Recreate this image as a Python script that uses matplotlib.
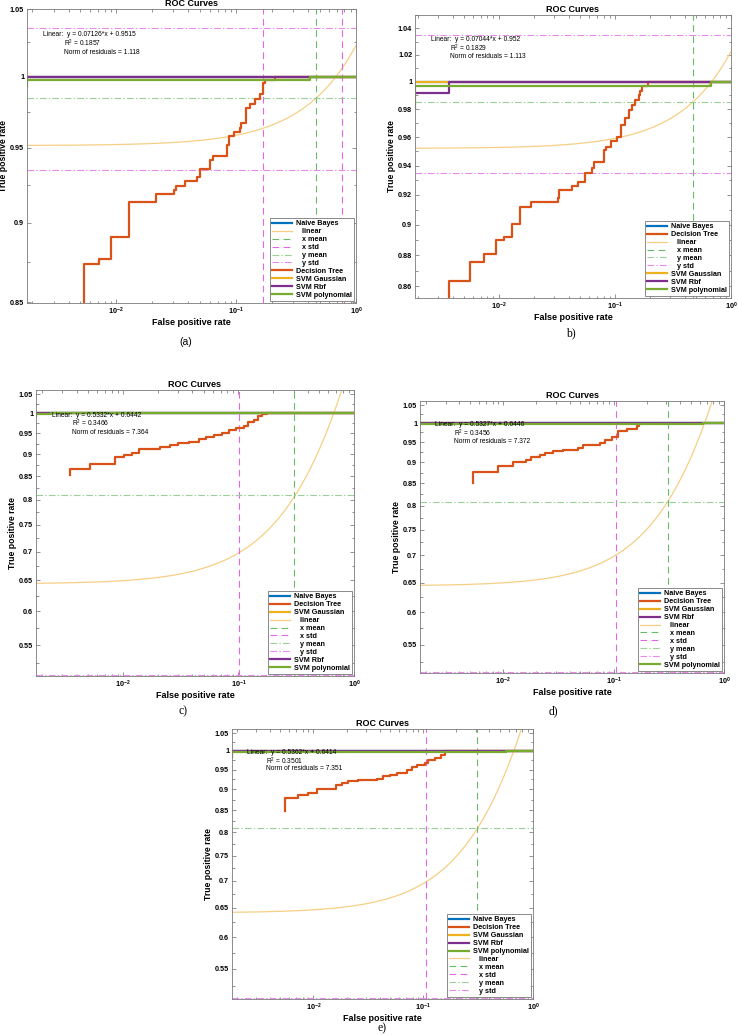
import numpy as np
import matplotlib
matplotlib.use('Agg')
import matplotlib.pyplot as plt
from matplotlib.ticker import FixedLocator, FuncFormatter, LogLocator, NullFormatter

plt.rcParams['font.family'] = ['Liberation Sans', 'DejaVu Sans']
plt.rcParams['font.weight'] = 'bold'
plt.rcParams['axes.titleweight'] = 'bold'
plt.rcParams['axes.labelweight'] = 'bold'
plt.rcParams['mathtext.fontset'] = 'custom'
plt.rcParams['mathtext.rm'] = 'Liberation Sans'
plt.rcParams['mathtext.bf'] = 'Liberation Sans:bold'
plt.rcParams['mathtext.default'] = 'regular'

# ---- data ----
# (a)
a_xmin = 0.0018
a_ylim = (0.8494, 1.05)
a_yticks = [0.85, 0.9, 0.95, 1.0, 1.05]
a_dt_fpr = [0.0054, 0.0054, 0.00718, 0.0091, 0.01265, 0.0216, 0.0301, 0.0318, 0.0376, 0.0476, 0.050,
            0.0603, 0.0636, 0.0845, 0.0874, 0.0960, 0.107, 0.110, 0.120, 0.122, 0.130, 0.145,
            0.158, 0.166, 0.175, 0.21, 1.0]
a_dt_tpr = [0.80, 0.8737, 0.877, 0.891, 0.9136, 0.919, 0.9217, 0.9243, 0.9277, 0.9301, 0.9357,
            0.9414, 0.9445, 0.952, 0.9582, 0.9612, 0.9635, 0.967, 0.9713, 0.9776, 0.9805, 0.9838,
            0.9874, 0.9953, 0.9975, 1.0, 1.0]
a_rbf_fpr = [0.0018, 1.0]
a_rbf_tpr = [1.0, 1.0]
a_poly_fpr = [0.0018, 0.0018, 0.415, 1.0]
a_poly_tpr = [0.993, 0.9975, 1.0, 1.0]
a_fit = (0.07126, 0.9515)
a_xmean = 0.466
a_xstd = [0.166, 0.766]
a_ymean = 0.985
a_ystd = [0.935, 1.0355]
a_note = ['Linear:  y = 0.07126*x + 0.9515', 'R$^2$ = 0.1857', 'Norm of residuals = 1.118']
a_order = ['Naive Bayes', 'linear', 'x mean', 'x std', 'y mean', 'y std',
           'Decision Tree', 'SVM Gaussian', 'SVM Rbf', 'SVM polynomial']

# (b)
b_xmin = 0.0019
b_ylim = (0.8527, 1.0503)
b_yticks = [0.86, 0.88, 0.9, 0.92, 0.94, 0.96, 0.98, 1.0, 1.02, 1.04]
b_dt_fpr = [0.00376, 0.00376, 0.00565, 0.0075, 0.00943, 0.0111, 0.0131, 0.0151, 0.019, 0.0321,
            0.0332, 0.0424, 0.0477, 0.0554, 0.0632, 0.066, 0.0806, 0.0834, 0.0918, 0.1047, 0.114,
            0.123, 0.132, 0.141, 0.150, 0.160, 0.165, 0.171, 0.193, 1.0]
b_dt_tpr = [0.80, 0.8636, 0.8753, 0.8809, 0.8896, 0.8918, 0.9003, 0.912, 0.9149, 0.9177, 0.9234,
            0.9261, 0.929, 0.9347, 0.9382, 0.9428, 0.951, 0.9533, 0.9573, 0.9603, 0.9686, 0.9733,
            0.9794, 0.983, 0.9866, 0.9903, 0.9928, 0.9969, 1.0, 1.0]
b_rbf_fpr = [0.0019, 0.00375, 1.0]
b_rbf_tpr = [0.9914, 1.0, 1.0]
b_poly_fpr = [0.0019, 0.0019, 0.67, 1.0]
b_poly_tpr = [0.9805, 0.997, 1.0, 1.0]
b_fit = (0.07044, 0.952)
b_xmean = 0.467
b_xstd = []
b_ymean = 0.985
b_ystd = [0.935, 1.035]
b_note = ['Linear:  y = 0.07044*x + 0.952', 'R$^2$ = 0.1829', 'Norm of residuals = 1.113']
b_order = ['Naive Bayes', 'Decision Tree', 'linear', 'x mean', 'y mean', 'y std',
           'SVM Gaussian', 'SVM Rbf', 'SVM polynomial']

# (c)
c_xmin = 0.00177
c_ylim = (0.508, 1.062)
c_yticks = [0.55, 0.6, 0.65, 0.7, 0.75, 0.8, 0.85, 0.9, 0.95, 1.0, 1.05]
c_dt_fpr = [0.00347, 0.00347, 0.00516, 0.00848, 0.0103, 0.012, 0.0139, 0.021, 0.0256, 0.0298,
            0.0376, 0.0458, 0.0529, 0.0616, 0.0727, 0.083, 0.096, 0.1119, 0.122, 0.1366, 0.1486,
            0.161, 0.178, 1.0]
c_dt_tpr = [0.854, 0.8655, 0.877, 0.8925, 0.8979, 0.903, 0.911, 0.9175, 0.9214, 0.9254, 0.9295,
            0.935, 0.9414, 0.9455, 0.9496, 0.9578, 0.962, 0.9678, 0.979, 0.9832, 0.9937, 0.999,
            1.0, 1.0]
c_rbf_fpr = [0.00177, 1.0]
c_rbf_tpr = [1.0, 1.0]
c_poly_fpr = [0.00177, 0.00177, 0.0024, 1.0]
c_poly_tpr = [0.993, 0.9975, 1.0, 1.0]
c_fit = (0.5332, 0.6442)
c_xmean = 0.302
c_xstd = [0.101]
c_ymean = 0.81
c_ystd = [0.509]
c_note = ['Linear:  y = 0.5332*x + 0.6442', 'R$^2$ = 0.3466', 'Norm of residuals = 7.364']
c_order = ['Naive Bayes', 'Decision Tree', 'SVM Gaussian', 'linear', 'x mean', 'x std',
           'y mean', 'y std', 'SVM Rbf', 'SVM polynomial']

# (d)
d_xmin = 0.00176
d_ylim = (0.5096, 1.0614)
d_yticks = c_yticks
d_dt_fpr = [0.00527, 0.00527, 0.0089, 0.0123, 0.016, 0.0178, 0.0215, 0.0239, 0.0284, 0.035,
            0.0478, 0.0531, 0.0752, 0.0835, 0.096, 0.110, 0.131, 0.162, 0.171]
d_dt_tpr = [0.8514, 0.8757, 0.8908, 0.9013, 0.9057, 0.912, 0.918, 0.9223, 0.9264, 0.9307,
            0.9349, 0.9436, 0.9478, 0.9547, 0.9634, 0.9781, 0.9843, 0.9913, 0.9957]
d_rbf_fpr = [0.00176, 1.0]
d_rbf_tpr = [1.0, 1.0]
d_poly_fpr = [0.00176, 0.65, 1.0]
d_poly_tpr = [0.997, 1.0, 1.0]
d_fit = (0.5327, 0.6446)
d_xmean = 0.313
d_xstd = [0.104]
d_ymean = 0.809
d_ystd = [0.5105]
d_note = ['Linear:  y = 0.5327*x + 0.6446', 'R$^2$ = 0.3456', 'Norm of residuals = 7.372']
d_order = ['Naive Bayes', 'Decision Tree', 'SVM Gaussian', 'SVM Rbf', 'linear', 'x mean',
           'x std', 'y mean', 'y std', 'SVM polynomial']

# (e)
e_xmin = 0.00181
e_ylim = (0.5065, 1.0616)
e_yticks = c_yticks
e_dt_fpr = [0.0055, 0.0055, 0.0073, 0.009, 0.0107, 0.0161, 0.0181, 0.0208, 0.0253, 0.0376,
            0.0433, 0.0498, 0.0573, 0.0705, 0.0782, 0.0869, 0.1034, 0.111, 0.128, 0.144, 0.157, 1.0]
e_dt_tpr = [0.847, 0.8795, 0.8865, 0.892, 0.9004, 0.9112, 0.9154, 0.9196, 0.9238, 0.9263,
            0.9323, 0.9366, 0.941, 0.9497, 0.9567, 0.9628, 0.9673, 0.976, 0.9805, 0.9895, 0.9985, 0.9985]
e_rbf_fpr = [0.00181, 1.0]
e_rbf_tpr = [1.0, 1.0]
e_poly_fpr = [0.00181, 0.00181, 0.572, 1.0]
e_poly_tpr = [0.983, 0.997, 1.0, 1.0]
e_fit = (0.5362, 0.6414)
e_xmean = 0.31
e_xstd = [0.105]
e_ymean = 0.809
e_ystd = [0.5075]
e_note = ['Linear:  y = 0.5362*x + 0.6414', 'R$^2$ = 0.3501', 'Norm of residuals = 7.351']
e_order = ['Naive Bayes', 'Decision Tree', 'SVM Gaussian', 'SVM Rbf', 'SVM polynomial',
           'linear', 'x mean', 'x std', 'y mean', 'y std']

# ---- styling ----
BLUE, ORANGE, YELLOW, PURPLE, GREEN = '#0072BD', '#D95319', '#EDB120', '#7E2F8E', '#77AC30'
FITC = '#F6CF85'
XMEAN_C, YMEAN_C = '#66BB66', '#9ACF9A'
XSTD_C, YSTD_C = '#E366E3', '#E88AE8'
FIT_ITEMS = {'linear', 'x mean', 'x std', 'y mean', 'y std'}

W, H = 738, 1035
fig = plt.figure(figsize=(W / 100, H / 100), dpi=100)


def px_axes(l, t, r, b):
    ax = fig.add_axes([l / W, 1 - b / H, (r - l) / W, (b - t) / H])
    ax._px_width = r - l
    return ax


def roc_panel(ax, xmin, ylim, yticks, dt_fpr, dt_tpr, rbf_fpr, rbf_tpr, poly_fpr, poly_tpr,
              fit, xmean, xstd, ymean, ystd, note, order):
    h = {}
    h['Naive Bayes'], = ax.plot([xmin, 1.0], [1.0, 1.0], color=BLUE, lw=1.6)
    xf = np.logspace(np.log10(xmin), 0, 400)
    h['linear'], = ax.plot(xf, fit[0] * xf + fit[1], color=FITC, lw=0.9)
    h['x mean'] = ax.axvline(xmean, color=XMEAN_C, ls=(0, (6, 4)), lw=0.8)
    for v in xstd:
        h['x std'] = ax.axvline(v, color=XSTD_C, ls=(0, (6, 4)), lw=0.8)
    h['y mean'] = ax.axhline(ymean, color=YMEAN_C, ls=(0, (6, 2, 1.2, 2)), lw=0.8)
    for v in ystd:
        h['y std'] = ax.axhline(v, color=YSTD_C, ls=(0, (6, 2, 1.2, 2)), lw=0.8)
    h['Decision Tree'], = ax.plot(dt_fpr, dt_tpr, drawstyle='steps-post', color=ORANGE, lw=1.6)
    h['SVM Gaussian'], = ax.plot([xmin, 1.0], [1.0, 1.0], color=YELLOW, lw=1.6)
    h['SVM Rbf'], = ax.plot(rbf_fpr, rbf_tpr, drawstyle='steps-post', color=PURPLE, lw=1.6)
    h['SVM polynomial'], = ax.plot(poly_fpr, poly_tpr, drawstyle='steps-post', color=GREEN, lw=1.6)

    ax.set_xscale('log')
    ax.set_yscale('log')
    ax.set_xlim(xmin, 1.0)
    ax.set_ylim(*ylim)
    ax.xaxis.set_major_locator(LogLocator(base=10, numticks=10))
    ax.xaxis.set_major_formatter(FuncFormatter(lambda v, p: r'$\mathbf{10^{%d}}$' % round(np.log10(v))))
    ax.xaxis.set_minor_locator(LogLocator(base=10, subs=np.arange(2, 10), numticks=10))
    ax.xaxis.set_minor_formatter(NullFormatter())
    step = yticks[1] - yticks[0]
    ax.yaxis.set_major_locator(FixedLocator(yticks))
    ax.yaxis.set_major_formatter(FuncFormatter(lambda v, p: f'{v:g}'))
    ax.yaxis.set_minor_locator(FixedLocator([t + step / 2 for t in [yticks[0] - step] + yticks]))
    ax.yaxis.set_minor_formatter(NullFormatter())
    ax.tick_params(which='both', direction='in', top=True, right=True, color='#666666',
                   width=0.5, labelsize=5.2, pad=2)
    ax.tick_params(which='major', length=3)
    ax.tick_params(which='minor', length=1.8)
    for s in ax.spines.values():
        s.set_color('#7a7a7a')
        s.set_linewidth(0.6)

    ax.set_title('ROC Curves', fontsize=6.5, pad=2)
    ax.set_xlabel('False positive rate', fontsize=6.5, labelpad=1)
    ax.set_ylabel('True positive rate', fontsize=6.2)
    ax.yaxis.set_label_coords(-19 / ax._px_width, 0.5)

    ax.text(0.05, 0.912, note[0], transform=ax.transAxes, fontsize=4.8, weight='normal', va='center')
    ax.text(0.112, 0.882, note[1], transform=ax.transAxes, fontsize=4.8, weight='normal', va='center')
    ax.text(0.112, 0.852, note[2], transform=ax.transAxes, fontsize=4.8, weight='normal', va='center')

    labels = [('   ' + k) if k in FIT_ITEMS else k for k in order]
    leg = ax.legend([h[k] for k in order], labels, loc='lower right', fancybox=False,
                    framealpha=1, edgecolor='#777777', prop={'size': 5.2, 'weight': 'bold'},
                    handlelength=2.8, handletextpad=0.5, labelspacing=0.12, borderpad=0.3,
                    borderaxespad=0.3)
    leg.get_frame().set_linewidth(0.6)


ax = px_axes(27, 9, 356, 303)
roc_panel(ax, a_xmin, a_ylim, a_yticks, a_dt_fpr, a_dt_tpr, a_rbf_fpr, a_rbf_tpr,
          a_poly_fpr, a_poly_tpr, a_fit, a_xmean, a_xstd, a_ymean, a_ystd, a_note, a_order)
ax = px_axes(415, 15, 731, 298)
roc_panel(ax, b_xmin, b_ylim, b_yticks, b_dt_fpr, b_dt_tpr, b_rbf_fpr, b_rbf_tpr,
          b_poly_fpr, b_poly_tpr, b_fit, b_xmean, b_xstd, b_ymean, b_ystd, b_note, b_order)
ax = px_axes(36, 390, 354, 676)
roc_panel(ax, c_xmin, c_ylim, c_yticks, c_dt_fpr, c_dt_tpr, c_rbf_fpr, c_rbf_tpr,
          c_poly_fpr, c_poly_tpr, c_fit, c_xmean, c_xstd, c_ymean, c_ystd, c_note, c_order)
ax = px_axes(420, 401, 724, 673)
roc_panel(ax, d_xmin, d_ylim, d_yticks, d_dt_fpr, d_dt_tpr, d_rbf_fpr, d_rbf_tpr,
          d_poly_fpr, d_poly_tpr, d_fit, d_xmean, d_xstd, d_ymean, d_ystd, d_note, d_order)
ax = px_axes(232, 729, 533, 999)
roc_panel(ax, e_xmin, e_ylim, e_yticks, e_dt_fpr, e_dt_tpr, e_rbf_fpr, e_rbf_tpr,
          e_poly_fpr, e_poly_tpr, e_fit, e_xmean, e_xstd, e_ymean, e_ystd, e_note, e_order)

fig.text(186 / W, 1 - 342 / H, '(a)', fontsize=7.5, weight='normal', ha='center', va='center')
for txt, x, y in [('b)', 571, 333), ('c)', 183, 711), ('d)', 553, 711), ('e)', 382, 1028)]:
    fig.text(x / W, 1 - y / H, txt, fontsize=8.5, weight='normal', ha='center', va='center',
             family=['Liberation Serif', 'DejaVu Serif'])

fig.savefig('out.png', dpi=100)
